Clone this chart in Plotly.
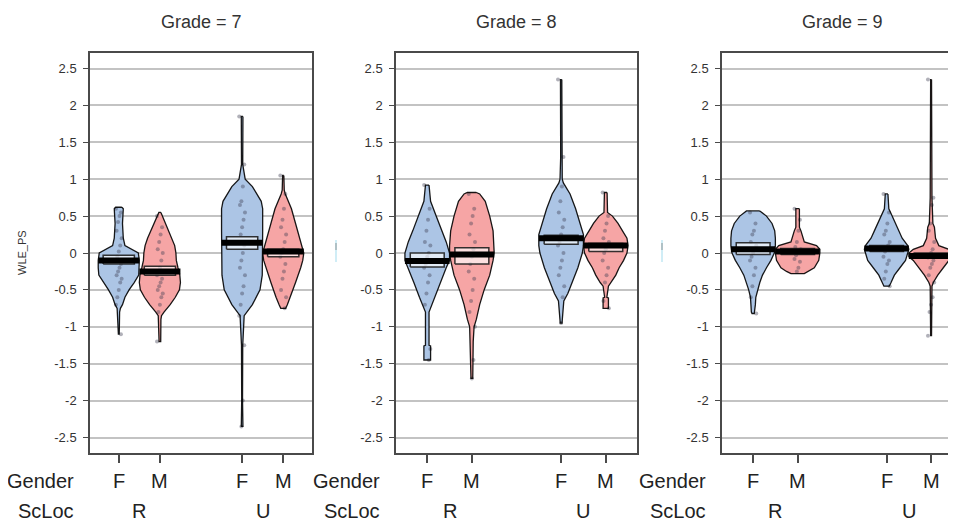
import plotly.graph_objects as go

# page is 956x524; the plot div sits 8px in from the top-left corner of the page
OFF = 8
W, H = 956 - OFF, 524 - OFF

grades = ["7", "8", "9"]
gender_labels = ["F", "M", "F", "M"]
scloc_labels = ["R", "U"]
bean_pos = [1, 2, 4, 5]
bean_colors = ["rgb(172,197,229)", "rgb(246,165,165)", "rgb(172,197,229)", "rgb(246,165,165)"]

# ---- density profiles (level, relative half-width) ----
g7_FR_lv = [0.62, 0.6, 0.5, 0.4, 0.3, 0.2, 0.1, 0.05, 0.0, -0.1, -0.2, -0.3, -0.4, -0.5, -0.6, -0.7, -0.75, -0.8, -1.0, -1.1]
g7_FR_w = [0.15, 0.22, 0.2, 0.18, 0.2, 0.22, 0.3, 0.6, 0.95, 1.0, 1.0, 0.97, 0.75, 0.5, 0.3, 0.18, 0.08, 0.04, 0.03, 0.02]
g7_MR_lv = [0.55, 0.45, 0.3, 0.2, 0.1, 0.0, -0.1, -0.2, -0.3, -0.4, -0.5, -0.6, -0.7, -0.8, -0.85, -0.9, -1.2]
g7_MR_w = [0.05, 0.2, 0.45, 0.6, 0.72, 0.78, 0.8, 0.88, 0.97, 1.0, 0.95, 0.75, 0.5, 0.2, 0.08, 0.05, 0.04]
g7_FU_lv = [1.85, 1.2, 1.0, 0.9, 0.7, 0.6, 0.3, 0.0, -0.3, -0.5, -0.7, -0.85, -1.25, -2.0, -2.35]
g7_FU_w = [0.04, 0.03, 0.15, 0.5, 0.93, 1.0, 1.0, 1.0, 0.98, 0.87, 0.5, 0.1, 0.03, 0.02, 0.04]
g7_MU_lv = [1.05, 0.85, 0.8, 0.6, 0.4, 0.2, 0.0, -0.1, -0.2, -0.4, -0.6, -0.7, -0.75]
g7_MU_w = [0.03, 0.05, 0.1, 0.4, 0.6, 0.8, 1.0, 0.95, 0.85, 0.6, 0.35, 0.2, 0.12]

g8_FR_lv = [0.92, 0.7, 0.5, 0.3, 0.15, 0.0, -0.1, -0.2, -0.4, -0.6, -0.75, -0.8, -1.25, -1.26, -1.45]
g8_FR_w = [0.08, 0.15, 0.4, 0.65, 0.85, 1.0, 1.0, 0.85, 0.6, 0.35, 0.15, 0.08, 0.08, 0.15, 0.15]
g8_MR_lv = [0.82, 0.8, 0.7, 0.5, 0.3, 0.1, 0.0, -0.1, -0.3, -0.5, -0.7, -0.9, -1.0, -1.2, -1.45, -1.7]
g8_MR_w = [0.2, 0.35, 0.6, 0.8, 0.95, 1.0, 1.0, 0.95, 0.8, 0.55, 0.35, 0.2, 0.1, 0.06, 0.05, 0.04]
g8_FU_lv = [2.35, 1.3, 1.0, 0.95, 0.8, 0.6, 0.4, 0.25, 0.1, 0.0, -0.2, -0.4, -0.55, -0.65, -0.95]
g8_FU_w = [0.03, 0.02, 0.05, 0.1, 0.4, 0.65, 0.85, 1.0, 1.0, 0.95, 0.75, 0.5, 0.3, 0.12, 0.04]
g8_MU_lv = [0.82, 0.55, 0.5, 0.4, 0.3, 0.2, 0.1, 0.0, -0.1, -0.2, -0.3, -0.4, -0.45, -0.6, -0.61, -0.75]
g8_MU_w = [0.06, 0.08, 0.3, 0.55, 0.75, 0.95, 1.0, 0.95, 0.8, 0.6, 0.45, 0.25, 0.12, 0.05, 0.12, 0.12]

g9_FR_lv = [0.57, 0.5, 0.4, 0.3, 0.2, 0.1, 0.0, -0.1, -0.2, -0.3, -0.4, -0.5, -0.6, -0.7, -0.8, -0.82]
g9_FR_w = [0.3, 0.6, 0.85, 0.97, 1.0, 1.0, 0.95, 0.8, 0.6, 0.42, 0.3, 0.2, 0.12, 0.1, 0.08, 0.05]
g9_MR_lv = [0.6, 0.35, 0.3, 0.15, 0.1, 0.05, 0.0, -0.1, -0.2, -0.25, -0.28]
g9_MR_w = [0.08, 0.08, 0.15, 0.3, 0.85, 1.0, 1.0, 0.95, 0.75, 0.5, 0.3]
g9_FU_lv = [0.8, 0.6, 0.5, 0.4, 0.3, 0.2, 0.1, 0.05, 0.0, -0.1, -0.2, -0.3, -0.4, -0.45]
g9_FU_w = [0.06, 0.1, 0.25, 0.4, 0.55, 0.7, 0.95, 1.0, 0.95, 0.85, 0.6, 0.35, 0.2, 0.12]
g9_MU_lv = [2.35, 0.75, 0.4, 0.35, 0.2, 0.1, 0.05, 0.0, -0.05, -0.1, -0.2, -0.3, -0.4, -0.45, -1.12]
g9_MU_w = [0.02, 0.04, 0.08, 0.15, 0.2, 0.35, 0.8, 1.0, 1.0, 0.8, 0.55, 0.3, 0.1, 0.04, 0.02]

# ---- raw points (approximate) ----
g7_FR_pts = [0.6, 0.55, 0.5, 0.42, 0.3, 0.2, 0.1, 0.02, -0.05, -0.1, -0.15, -0.2, -0.25, -0.3, -0.35, -0.4, -0.5, -0.6, -0.7, -1.1]
g7_MR_pts = [0.5, 0.35, 0.25, 0.15, 0.05, 0.0, -0.1, -0.2, -0.25, -0.3, -0.35, -0.4, -0.45, -0.5, -0.55, -0.6, -0.7, -0.8, -1.2]
g7_FU_pts = [1.85, 1.2, 0.9, 0.7, 0.65, 0.55, 0.45, 0.35, 0.25, 0.15, 0.1, 0.0, -0.1, -0.2, -0.3, -0.45, -0.55, -0.7, -0.85, -1.25, -2.0, -2.35]
g7_MU_pts = [1.05, 0.8, 0.6, 0.45, 0.35, 0.25, 0.15, 0.05, 0.0, -0.05, -0.15, -0.25, -0.35, -0.5, -0.6, -0.75]
g8_FR_pts = [0.92, 0.6, 0.45, 0.3, 0.15, 0.1, 0.0, -0.05, -0.15, -0.2, -0.3, -0.4, -0.55, -0.7, -1.3, -1.45]
g8_MR_pts = [0.8, 0.6, 0.5, 0.4, 0.25, 0.15, 0.05, -0.05, -0.15, -0.25, -0.35, -0.5, -0.65, -0.8, -1.0, -1.45, -1.7]
g8_FU_pts = [2.35, 1.3, 0.9, 0.7, 0.55, 0.45, 0.35, 0.25, 0.15, 0.1, 0.0, -0.1, -0.2, -0.3, -0.45, -0.6, -0.95]
g8_MU_pts = [0.82, 0.5, 0.4, 0.3, 0.2, 0.15, 0.1, 0.05, 0.0, -0.1, -0.2, -0.3, -0.4, -0.65, -0.75]
g9_FR_pts = [0.55, 0.4, 0.3, 0.25, 0.15, 0.1, 0.05, 0.0, -0.05, -0.1, -0.2, -0.3, -0.45, -0.6, -0.82]
g9_MR_pts = [0.6, 0.45, 0.3, 0.15, 0.08, 0.05, 0.02, 0.0, -0.03, -0.08, -0.12, -0.2, -0.25]
g9_FU_pts = [0.8, 0.55, 0.4, 0.3, 0.25, 0.15, 0.1, 0.05, 0.02, -0.05, -0.1, -0.15, -0.25, -0.35, -0.45]
g9_MU_pts = [2.35, 0.75, 0.65, 0.4, 0.3, 0.15, 0.05, 0.0, -0.03, -0.06, -0.1, -0.15, -0.2, -0.3, -0.4, -0.6, -0.7, -0.8, -1.12]

# ---- means and HDI intervals ----
g7_means = [-0.10, -0.25, 0.14, 0.02]
g7_hdi_lo = [-0.15, -0.30, 0.05, -0.05]
g7_hdi_hi = [-0.03, -0.18, 0.22, 0.05]
g8_means = [-0.11, -0.02, 0.20, 0.10]
g8_hdi_lo = [-0.19, -0.15, 0.12, 0.02]
g8_hdi_hi = [0.00, 0.07, 0.24, 0.13]
g9_means = [0.05, 0.02, 0.06, -0.04]
g9_hdi_lo = [-0.02, -0.02, 0.02, -0.07]
g9_hdi_hi = [0.14, 0.06, 0.10, 0.00]

profiles = [
    [(g7_FR_lv, g7_FR_w), (g7_MR_lv, g7_MR_w), (g7_FU_lv, g7_FU_w), (g7_MU_lv, g7_MU_w)],
    [(g8_FR_lv, g8_FR_w), (g8_MR_lv, g8_MR_w), (g8_FU_lv, g8_FU_w), (g8_MU_lv, g8_MU_w)],
    [(g9_FR_lv, g9_FR_w), (g9_MR_lv, g9_MR_w), (g9_FU_lv, g9_FU_w), (g9_MU_lv, g9_MU_w)],
]
points = [
    [g7_FR_pts, g7_MR_pts, g7_FU_pts, g7_MU_pts],
    [g8_FR_pts, g8_MR_pts, g8_FU_pts, g8_MU_pts],
    [g9_FR_pts, g9_MR_pts, g9_FU_pts, g9_MU_pts],
]
means = [g7_means, g8_means, g9_means]
hdi_lo = [g7_hdi_lo, g8_hdi_lo, g9_hdi_lo]
hdi_hi = [g7_hdi_hi, g8_hdi_hi, g9_hdi_hi]

# ---- layout geometry (page pixels) ----
panel_px = [(90, 312), (396, 637), (722, 956)]
x_ranges = [[0.3, 5.7], [0.3, 5.7], [0.3, 5.56]]
y_top_px, y_bot_px = 53, 453
y_range = [-2.71, 2.71]
half_w = 0.5
hdi_half = 0.38


def px_x(px):
    return (px - OFF) / W


def px_y(py):
    return 1 - (py - OFF) / H


fig = go.Figure()
font_family = "Liberation Sans, Arial, sans-serif"

for p in range(3):
    xa = "x" if p == 0 else f"x{p+1}"
    ya = "y" if p == 0 else f"y{p+1}"
    for b in range(4):
        lv, w = profiles[p][b]
        pos = bean_pos[b]
        xs = [pos + wi * half_w for wi in w] + [pos - wi * half_w for wi in reversed(w)]
        ys = list(lv) + list(reversed(lv))
        fig.add_trace(go.Scatter(x=xs + [xs[0]], y=ys + [ys[0]], mode="lines", fill="toself",
                                 fillcolor=bean_colors[b], line=dict(color="rgba(0,0,0,0)", width=0),
                                 xaxis=xa, yaxis=ya, hoverinfo="skip", showlegend=False))
        pts = points[p][b]
        jit = [((i * 7) % 9 - 4) / 4 * 0.07 for i in range(len(pts))]
        fig.add_trace(go.Scatter(x=[pos + j for j in jit], y=pts, mode="markers",
                                 marker=dict(size=4, color="rgba(60,60,80,0.4)"),
                                 xaxis=xa, yaxis=ya, hoverinfo="skip", showlegend=False))
        fig.add_trace(go.Scatter(x=xs + [xs[0]], y=ys + [ys[0]], mode="lines",
                                 line=dict(color="rgba(0,0,0,0.9)", width=1.3),
                                 xaxis=xa, yaxis=ya, hoverinfo="skip", showlegend=False))
        lo, hi = hdi_lo[p][b], hdi_hi[p][b]
        fig.add_trace(go.Scatter(x=[pos - hdi_half, pos + hdi_half, pos + hdi_half, pos - hdi_half, pos - hdi_half],
                                 y=[lo, lo, hi, hi, lo], mode="lines", fill="toself",
                                 fillcolor="rgba(255,255,255,0.65)",
                                 line=dict(color="rgba(30,30,30,0.9)", width=1.5),
                                 xaxis=xa, yaxis=ya, hoverinfo="skip", showlegend=False))
        m = means[p][b]
        fig.add_trace(go.Scatter(x=[pos - half_w, pos + half_w], y=[m, m], mode="lines",
                                 line=dict(color="black", width=6),
                                 xaxis=xa, yaxis=ya, hoverinfo="skip", showlegend=False))

frame_col = "#4a4a4a"
layout = dict(width=W, height=H, margin=dict(l=0, r=0, t=0, b=0),
              paper_bgcolor="white", plot_bgcolor="white", showlegend=False,
              font=dict(family=font_family, color="#333333"))
ydom = [px_y(y_bot_px), px_y(y_top_px)]
for p in range(3):
    sx = "" if p == 0 else str(p + 1)
    l, r = panel_px[p]
    layout["xaxis" + sx] = dict(domain=[px_x(l), min(1.0, px_x(r))], range=x_ranges[p], tickvals=bean_pos,
                                showticklabels=False, ticks="outside", ticklen=8, tickwidth=1.5,
                                tickcolor=frame_col, showgrid=False, zeroline=False,
                                showline=True, linecolor=frame_col, linewidth=1.5, mirror=True,
                                anchor="y" + sx, fixedrange=True)
    layout["yaxis" + sx] = dict(domain=ydom, range=y_range,
                                tickvals=[-2.5, -2, -1.5, -1, -0.5, 0, 0.5, 1, 1.5, 2, 2.5],
                                ticktext=["-2.5", "-2", "-1.5", "-1", "-0.5", "0", "0.5", "1", "1.5", "2", "2.5"],
                                ticks="outside", ticklen=5, tickwidth=1.2, tickcolor=frame_col,
                                tickfont=dict(size=13, color="#333333"), ticklabelstandoff=4,
                                showgrid=True, gridcolor="rgb(195,195,195)", gridwidth=1.5,
                                zeroline=False, showline=True, linecolor=frame_col, linewidth=1.5,
                                mirror=(p < 2), anchor="x" + sx, fixedrange=True)
fig.update_layout(**layout)

ann = []
lbl_font = dict(size=20, color="#222222")
for p in range(3):
    l, r = panel_px[p]
    xr = x_ranges[p]
    unit = (r - l) / (xr[1] - xr[0])

    def to_px(v, l=l, xr=xr, unit=unit):
        return l + (v - xr[0]) * unit

    ann.append(dict(x=px_x((l + to_px(5.7)) / 2), y=px_y(22), xref="paper", yref="paper",
                    xanchor="center", yanchor="middle",
                    text=f"Grade = {grades[p]}", showarrow=False,
                    font=dict(size=18, color="#333333")))
    ann.append(dict(x=px_x(l - 14), y=px_y(481), xref="paper", yref="paper",
                    xanchor="right", yanchor="middle",
                    text="Gender", showarrow=False, font=lbl_font))
    ann.append(dict(x=px_x(l - 14), y=px_y(511), xref="paper", yref="paper",
                    xanchor="right", yanchor="middle",
                    text="ScLoc", showarrow=False, font=lbl_font))
    for b in range(4):
        ann.append(dict(x=px_x(to_px(bean_pos[b])), y=px_y(481), xref="paper", yref="paper",
                        xanchor="center", yanchor="middle",
                        text=gender_labels[b], showarrow=False, font=lbl_font))
    for k, s in enumerate(scloc_labels):
        ann.append(dict(x=px_x(to_px((bean_pos[2 * k] + bean_pos[2 * k + 1]) / 2)), y=px_y(511),
                        xref="paper", yref="paper", xanchor="center", yanchor="middle",
                        text=s, showarrow=False, font=lbl_font))
ann.append(dict(x=px_x(22), y=px_y(253), xref="paper", yref="paper", text="WLE_PS",
                xanchor="center", yanchor="middle",
                textangle=-90, showarrow=False, font=dict(size=11, color="#333333")))
fig.update_layout(annotations=ann)

# faint cut-off axis-title remnants in panels 2 and 3
shapes = []
for xpx in (336, 662):
    shapes.append(dict(type="line", xref="paper", yref="paper", x0=px_x(xpx), x1=px_x(xpx),
                       y0=px_y(262), y1=px_y(240), line=dict(color="rgba(150,215,235,0.6)", width=1.5)))
    shapes.append(dict(type="line", xref="paper", yref="paper", x0=px_x(xpx), x1=px_x(xpx),
                       y0=px_y(250), y1=px_y(243), line=dict(color="rgba(120,120,120,0.5)", width=1.5)))
fig.update_layout(shapes=shapes)

fig.write_html("out.html")
